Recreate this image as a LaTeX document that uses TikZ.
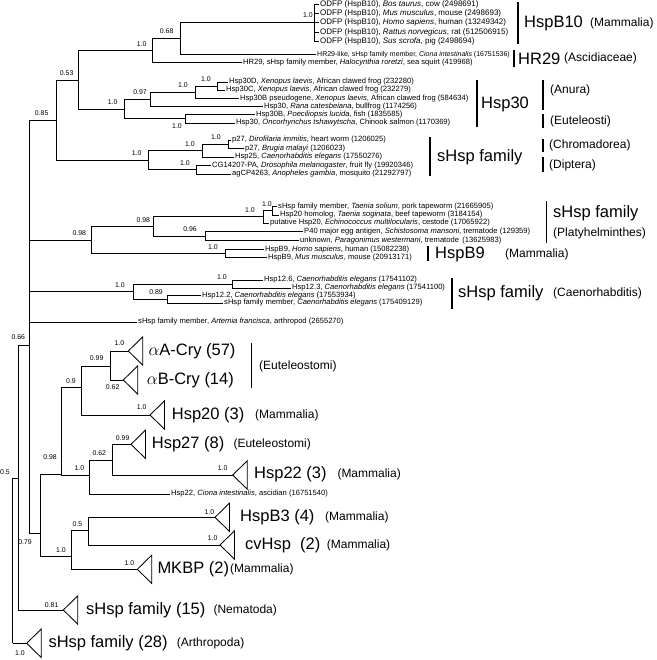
\documentclass[tikz,border=0pt]{standalone}
\usepackage{fontspec}
\setmainfont{Liberation Sans}
\begin{document}
\begin{tikzpicture}[x=1pt,y=-1pt,
  br/.style={line width=0.85pt},
  bar/.style={line width=1.3pt},
  leaf/.style={anchor=west, inner sep=1pt, font=\fontsize{7.6}{8}\selectfont},
  leafw/.style={leaf, font=\fontsize{8}{8}\selectfont},
  leafn/.style={leaf, font=\fontsize{7}{8}\selectfont},
  sup/.style={inner sep=0pt, font=\fontsize{6.9}{7}\selectfont},
  big/.style={anchor=west, inner sep=0pt, font=\fontsize{16.5}{18}\selectfont},
  reg/.style={anchor=west, inner sep=0pt, font=\fontsize{12}{14}\selectfont}]
\useasboundingbox (0,0) rectangle (656,660);
% ---------- internal nodes ----------
\coordinate (hb10) at (314.5,22.9);
\coordinate (n068) at (180.7,38.7);
\coordinate (nhr) at (152.7,50.7);
\coordinate (n053) at (78.7,80);
\coordinate (n30dc) at (217,86);
\coordinate (n30b) at (195,92.25);
\coordinate (n097) at (150.7,99.5);
\coordinate (neut) at (185.7,118.9);
\coordinate (n30) at (124,109.2);
\coordinate (np27) at (228.3,144.25);
\coordinate (nh25) at (202.3,150.6);
\coordinate (ndip) at (196,169.75);
\coordinate (nchr) at (148.3,160.2);
\coordinate (n085) at (56.7,120.1);
\coordinate (ntae) at (272,210.85);
\coordinate (ntae2) at (263,216.9);
\coordinate (n096) at (205,236);
\coordinate (n098u) at (153.3,226.5);
\coordinate (nb9) at (225,253.5);
\coordinate (n098l) at (91.7,240);
\coordinate (n126) at (232,284);
\coordinate (n089) at (167,299.25);
\coordinate (ncae) at (133.3,291.6);
\coordinate (n066) at (29.3,345);
\coordinate (n05) at (18.3,478);
\coordinate (root) at (12.7,643.3);
\coordinate (n079) at (40.7,533);
\coordinate (n098c) at (61,474.5);
\coordinate (n09) at (81.7,387.3);
\coordinate (n099) at (110,366);
\coordinate (n10c) at (89.3,475);
\coordinate (n062) at (112,460);
\coordinate (n10b) at (71,556);
\coordinate (n05b) at (88.3,530.7);
% collapsed clade apexes
\coordinate (tA) at (128.3,351);
\coordinate (tB) at (123.3,380);
\coordinate (t20) at (150,415);
\coordinate (t27) at (131,444.3);
\coordinate (t22) at (232.7,475);
\coordinate (tB3) at (215,517.3);
\coordinate (tcv) at (220,545);
\coordinate (tMK) at (137.3,569.3);
\coordinate (t15) at (63.3,610);
\coordinate (t28) at (26.7,643.3);
% ---------- leaves ----------
\node[leafw] (o1) at (319,4.5) {ODFP (HspB10), \textit{Bos taurus}, cow (2498691)};
\node[leafw] (o2) at (319,13.7) {ODFP (HspB10), \textit{Mus musculus}, mouse (2498693)};
\node[leafw] (o3) at (319,22.9) {ODFP (HspB10), \textit{Homo sapiens}, human (13249342)};
\node[leafw] (o4) at (319,32.1) {ODFP (HspB10), \textit{Rattus norvegicus}, rat (512506915)};
\node[leafw] (o5) at (319,41.3) {ODFP (HspB10), \textit{Sus scrofa}, pig (2498694)};
\node[leafn] (hr29l) at (316,54.5) {HR29-like, sHsp family member, \textit{Ciona intestinalis} (16751536)};
\node[leaf] (hr29) at (242,62.7) {HR29, sHsp family member, \textit{Halocynthia roretzi}, sea squirt (419968)};
\node[leaf] (x30d) at (228,82) {Hsp30D, \textit{Xenopus laevis}, African clawed frog (232280)};
\node[leaf] (x30c) at (225,90) {Hsp30C, \textit{Xenopus laevis}, African clawed frog (232279)};
\node[leaf] (x30b) at (239,98.5) {Hsp30B pseudogene, \textit{Xenopus laevis}, African clawed frog (584634)};
\node[leaf] (rana) at (263,106.7) {Hsp30, \textit{Rana catesbeiana}, bullfrog (1174256)};
\node[leaf] (poec) at (255,114.8) {Hsp30B, \textit{Poeciliopsis lucida}, fish (1835585)};
\node[leaf] (onc) at (235,123) {Hsp30, \textit{Oncorhynchus tshawytscha}, Chinook salmon (1170369)};
\node[leaf] (p27a) at (231,140) {p27, \textit{Dirofilaria immitis}, heart worm (1206025)};
\node[leaf] (p27b) at (244,148.5) {p27, \textit{Brugia malayi} (1206023)};
\node[leaf] (h25) at (234,157) {Hsp25, \textit{Caenorhabditis elegans} (17550276)};
\node[leaf] (cg) at (211,165.5) {CG14207-PA, \textit{Drosophila melanogaster}, fruit fly (19920346)};
\node[leaf] (ag) at (231,174) {agCP4263, \textit{Anopheles gambia}, mosquito (21292797)};
\node[leaf] (tso) at (277,206.7) {sHsp family member, \textit{Taenia solium}, pork tapeworm (21665905)};
\node[leaf] (tsg) at (279,215) {Hsp20 homolog, \textit{Taenia soginata}, beef tapeworm (3184154)};
\node[leaf] (put) at (269,223) {putative Hsp20, \textit{Echinococcus multilocularis}, cestode (17065922)};
\node[leaf] (p40) at (303,231.7) {P40 major egg antigen, \textit{Schistosoma mansoni}, trematode (129359)};
\node[leaf] (unk) at (299,240.3) {unknown, \textit{Paragonimus westermani}, trematode\, (13625983)};
\node[leaf] (b9h) at (264,249.3) {HspB9, \textit{Homo sapiens}, human (15082238)};
\node[leaf] (b9m) at (267,257.7) {HspB9, \textit{Mus musculus}, mouse (20913171)};
\node[leaf] (h126) at (263,280) {Hsp12.6, \textit{Caenorhabditis elegans} (17541102)};
\node[leaf] (h123) at (291,288) {Hsp12.3, \textit{Caenorhabditis elegans} (17541100)};
\node[leaf] (h122) at (201,295.5) {Hsp12.2, \textit{Caenorhabditis elegans} (17553934)};
\node[leaf] (cel) at (223,303) {sHsp family member, \textit{Caenorhabditis elegans} (175409129)};
\node[leaf] (art) at (137,322) {sHsp family member, \textit{Artemia francisca}, arthropod (2655270)};
\node[leaf] (cio) at (170,494) {Hsp22, \textit{Ciona intestinalis}, ascidian (16751540)};
% ---------- branches ----------
\draw[br] (root) |- (n05);
\draw[br] (root) -- (t28);
\draw[br] (n05) |- (n066);
\draw[br] (n05) |- (t15);
\draw[br] (n066) |- (n085);
\draw[br] (n066) |- (n098l);
\draw[br] (n066) |- (ncae);
\draw[br] (n066) |- (art.west);
\draw[br] (n066) |- (n079);
\draw[br] (n085) |- (n053);
\draw[br] (n085) |- (nchr);
\draw[br] (n053) |- (nhr);
\draw[br] (n053) |- (n30);
\draw[br] (nhr) |- (n068);
\draw[br] (nhr) |- (hr29.west);
\draw[br] (n068) |- (hb10);
\draw[br] (n068) |- (hr29l.west);
\foreach \o in {o1,o2,o3,o4,o5} \draw[br] (hb10) |- (\o.west);
\draw[br] (n30) |- (n097);
\draw[br] (n30) |- (neut);
\draw[br] (n097) |- (n30b);
\draw[br] (n097) |- (rana.west);
\draw[br] (n30b) |- (n30dc);
\draw[br] (n30b) |- (x30b.west);
\draw[br] (n30dc) |- (x30d.west);
\draw[br] (n30dc) |- (x30c.west);
\draw[br] (neut) |- (poec.west);
\draw[br] (neut) |- (onc.west);
\draw[br] (nchr) |- (nh25);
\draw[br] (nchr) |- (ndip);
\draw[br] (nh25) |- (np27);
\draw[br] (nh25) |- (h25.west);
\draw[br] (np27) |- (p27a.west);
\draw[br] (np27) |- (p27b.west);
\draw[br] (ndip) |- (cg.west);
\draw[br] (ndip) |- (ag.west);
\draw[br] (n098l) |- (n098u);
\draw[br] (n098l) |- (nb9);
\draw[br] (n098u) |- (ntae2);
\draw[br] (n098u) |- (n096);
\draw[br] (ntae2) |- (ntae);
\draw[br] (ntae2) |- (put.west);
\draw[br] (ntae) |- (tso.west);
\draw[br] (ntae) |- (tsg.west);
\draw[br] (n096) |- (p40.west);
\draw[br] (n096) |- (unk.west);
\draw[br] (nb9) |- (b9h.west);
\draw[br] (nb9) |- (b9m.west);
\draw[br] (ncae) |- (n126);
\draw[br] (ncae) |- (n089);
\draw[br] (n126) |- (h126.west);
\draw[br] (n126) |- (h123.west);
\draw[br] (n089) |- (h122.west);
\draw[br] (n089) |- (cel.west);
\draw[br] (n079) |- (n098c);
\draw[br] (n079) |- (n10b);
\draw[br] (n098c) |- (n09);
\draw[br] (n098c) |- (n10c);
\draw[br] (n09) |- (n099);
\draw[br] (n09) |- (t20);
\draw[br] (n099) |- (tA);
\draw[br] (n099) |- (tB);
\draw[br] (n10c) |- (n062);
\draw[br] (n10c) |- (cio.west);
\draw[br] (n062) |- (t27);
\draw[br] (n062) |- (t22);
\draw[br] (n10b) |- (n05b);
\draw[br] (n10b) |- (tMK);
\draw[br] (n05b) |- (tB3);
\draw[br] (n05b) |- (tcv);
% collapsed clades
\foreach \t in {tA,tB,t20,t27,t22,tB3,tcv,tMK,t15,t28}
  \draw[br] (\t) -- ++(14.5,-14.2) -- ++(0,28.4) -- cycle;
% ---------- support values ----------
\foreach \x/\y/\t [count=\i] in {
  308/15.5/1.0, 166.7/31/0.68, 141.7/44/1.0, 66.7/73/0.53, 41.7/113/0.85,
  112.7/102.5/1.0, 140/92.5/0.97, 183/85.5/1.0, 206/79.5/1.0, 177/126.5/1.0,
  136.7/153.5/1.0, 190/144/1.0, 216/137.5/1.0, 185/163/1.0,
  79.3/233.5/0.98, 143.3/220/0.98, 250/210/1.0, 267/204/1.0, 190/229.5/0.96, 213/247/1.0,
  120/285/1.0, 222/277.5/1.0, 156/292.5/0.89,
  18.3/337/0.66, 5/471.7/0.5, 25/541.7/0.79, 50/456.7/0.98, 71/380.7/0.9,
  96.7/358.3/0.99, 119.3/343.5/1.0, 112.7/386.7/0.62, 141.7/407.3/1.0,
  79.3/468.3/1.0, 99.3/453.3/0.62, 122.7/438.3/0.99, 222.7/467.7/1.0,
  61/550/1.0, 77.3/524/0.5, 209.3/511.7/1.0, 212.7/538.3/1.0, 129.3/562.7/1.0,
  51.7/605/0.81, 20/653.3/1.0}
  \node[sup] (s\i) at (\x,\y) {\t};
% ---------- group brackets and names ----------
\draw[bar] (518,2) -- (518,44);
\node[big] (gB10) at (524,23) {HspB10};
\node[reg] (rB10) at (590,23) {(Mammalia)};
\draw[bar] (514,50) -- (514,67);
\node[big] (gHR) at (518,58.5) {HR29};
\node[reg] (rHR) at (564,58.5) {(Ascidiaceae)};
\draw[bar] (477,80) -- (477,127);
\node[big] (g30) at (481,104) {Hsp30};
\draw[bar] (543,80) -- (543,110);
\node[reg] (rAn) at (550,90) {(Anura)};
\draw[bar] (543,114) -- (543,128);
\node[reg] (rEu) at (550,121) {(Euteleosti)};
\draw[bar] (430,137) -- (430,176);
\node[big] (gCh) at (437,157) {sHsp family};
\draw[bar] (543,139) -- (543,152);
\node[reg] (rCh) at (549,145.5) {(Chromadorea)};
\draw[bar] (543,157) -- (543,172);
\node[reg] (rDi) at (549,165) {(Diptera)};
\draw[bar] (546.7,201) -- (546.7,243);
\node[big] (gPl) at (553,213) {sHsp family};
\node[reg] (rPl) at (553,233) {(Platyhelminthes)};
\draw[bar] (428,246) -- (428,261);
\node[big] (gB9) at (435,254) {HspB9};
\node[reg] (rB9) at (505,254) {(Mammalia)};
\draw[bar] (452,278) -- (452,309);
\node[big] (gCa) at (458,293) {sHsp family};
\node[reg] (rCa) at (553,293) {(Caenorhabditis)};
\draw[bar] (251.7,343) -- (251.7,388);
\node[reg] (rEt) at (259,366.7) {(Euteleostomi)};
\node[big] (lA) at (148.3,351) {$\alpha$A-Cry (57)};
\node[big] (lB) at (146.7,380.7) {$\alpha$B-Cry (14)};
\node[big] (l20) at (171.7,415) {Hsp20 (3)};
\node[reg] (r20) at (255,415) {(Mammalia)};
\node[big] (l27) at (151.7,444.3) {Hsp27 (8)};
\node[reg] (r27) at (233.3,444.3) {(Euteleostomi)};
\node[big] (l22) at (254,474) {Hsp22 (3)};
\node[reg] (r22) at (337.3,474) {(Mammalia)};
\node[big] (lB3) at (240,517.3) {HspB3 (4)};
\node[reg] (rB3) at (325,517.3) {(Mammalia)};
\node[big] (lcv) at (245,545) {cvHsp\ \ (2)};
\node[reg] (rcv) at (326.7,545) {(Mammalia)};
\node[big] (lMK) at (157.3,569.3) {MKBP (2)};
\node[reg] (rMK) at (230,569.3) {(Mammalia)};
\node[big] (l15) at (86,610) {sHsp family (15)};
\node[reg] (r15) at (213.3,610) {(Nematoda)};
\node[big] (l28) at (48.3,643.3) {sHsp family (28)};
\node[reg] (r28) at (176.7,643.3) {(Arthropoda)};
\end{tikzpicture}
\end{document}
